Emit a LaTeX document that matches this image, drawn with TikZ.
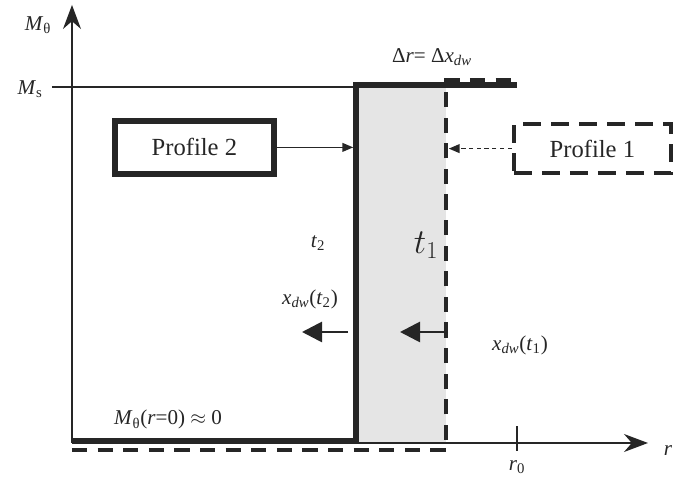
\documentclass[tikz,border=0pt]{standalone}
\usepackage{fontspec}
\setmainfont{Liberation Serif}
\usetikzlibrary{arrows.meta}

\tikzset{
  lbl/.style={font=\fontsize{15}{18}\selectfont},
  wallarrow/.style={line width=0.07cm,-{Triangle[length=0.5cm,width=0.5cm]}},
  longdash/.style={dash pattern=on 0.38cm off 0.26cm}
}

\begin{document}
\begin{tikzpicture}[black!85]
    \useasboundingbox (-1.8,-0.875) rectangle (15.275,11.075);
    % shaded domain wall region
    \fill [black!10] (7.1,0) rectangle (9.35,8.9);
    % axes
    \coordinate (O) at (0,0);
    \coordinate (ytop) at (0,10.95);
    \coordinate (xtip) at (14.4,0);
    \draw [line width=0.9pt,-{Stealth[length=0.6cm,width=0.45cm]}] (O)--(ytop);
    \draw [line width=0.9pt,-{Stealth[length=0.6cm,width=0.45cm]}] (O)--(xtip);
    \node[lbl] (ylab) at (-0.85,10.45) {\textit{M}\textsubscript{θ}};
    \node[lbl] (xlab) at (14.9,-0.2) {\textit{r}};
    \coordinate (msl) at (-0.5,8.9);
    \coordinate (msr) at (7.1,8.9);
    \draw [line width=0.8pt] (msl)--(msr);
    \node[lbl] (mslab) at (-1.05,8.85) {\textit{M}\textsubscript{s}};
    \coordinate (tkt) at (11.125,0.42);
    \coordinate (tkb) at (11.125,-0.2);
    \draw [line width=0.8pt] (tkt)--(tkb);
    \node[lbl] (r0lab) at (11.125,-0.6) {\textit{r}\textsubscript{0}};
    % profile 2 (solid) and profile 1 (dashed)
    \draw [line width=0.13cm] (0,0.06)--(7.1,0.06)--(7.1,8.95)--(11.125,8.95);
    \draw [line width=0.1cm,longdash] (0,-0.175)--(9.35,-0.175)--(9.35,9.075)--(11.125,9.075);
    % boxes
    \node[draw,line width=0.15cm,minimum width=3.975cm,minimum height=1.325cm,
          font=\fontsize{17.5}{21}\selectfont] (prof2) at (3.06,7.39) {Profile 2};
    \node[draw,line width=0.1cm,dash pattern=on 0.45cm off 0.25cm,minimum width=3.925cm,
          minimum height=1.225cm,font=\fontsize{17.5}{21}\selectfont] (prof1) at (13.01,7.36) {Profile 1};
    \coordinate (w2) at (7.03,7.36);
    \coordinate (w1) at (9.42,7.36);
    \draw [line width=1pt,-{Triangle[length=0.27cm,width=0.22cm]}] (prof2.east)--(prof2.east -| w2);
    \draw [line width=1pt,dash pattern=on 3pt off 2.5pt,-{Triangle[length=0.27cm,width=0.22cm]}] (prof1.west)--(w1);
    % wall motion
    \coordinate (a2s) at (6.9,2.775);
    \coordinate (a2e) at (5.75,2.775);
    \coordinate (a1s) at (9.4,2.775);
    \coordinate (a1e) at (8.2,2.775);
    \draw [wallarrow] (a2s)--(a2e);
    \draw [wallarrow] (a1s)--(a1e);
    \node[lbl] (xt2) at (5.95,3.6) {\textit{x}\textsubscript{\textit{dw}}(\textit{t}\textsubscript{2})};
    \node[lbl] (xt1) at (11.2,2.45) {\textit{x}\textsubscript{\textit{dw}}(\textit{t}\textsubscript{1})};
    \node[lbl] (t2) at (6.15,5.0) {\textit{t}\textsubscript{2}};
    \node[font=\fontsize{24}{28}\selectfont] (t1) at (8.85,4.95) {$t_1$};
    \node[lbl] (dr) at (9.0,9.65) {Δ\textit{r}= Δ\textit{x}\textsubscript{\textit{dw}}};
    \node[lbl] (m0) at (2.4,0.58) {\textit{M}\textsubscript{θ}(\textit{r}=0) $\approx$ 0};
\end{tikzpicture}
\end{document}
